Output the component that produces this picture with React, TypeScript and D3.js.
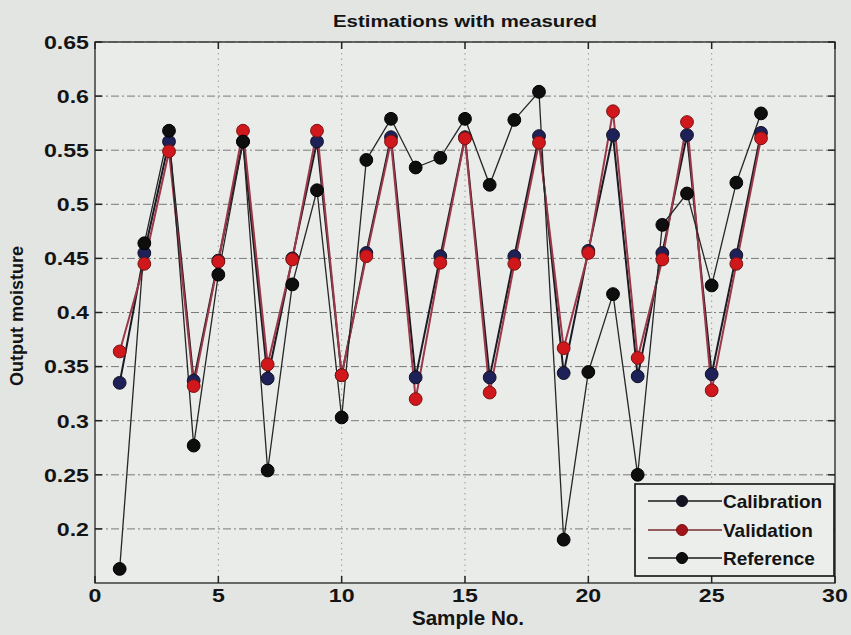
import React from "react";
import * as d3 from "d3";

const samples = d3.range(1, 28);
const reference = [0.163,0.464,0.568,0.277,0.435,0.558,0.254,0.426,0.513,0.303,0.541,0.579,0.534,0.543,0.579,0.518,0.578,0.604,0.190,0.345,0.417,0.250,0.481,0.510,0.425,0.520,0.584];
const calibration = [0.335,0.455,0.558,0.337,0.448,0.558,0.339,0.450,0.558,0.342,0.455,0.562,0.340,0.452,0.562,0.340,0.452,0.563,0.344,0.457,0.564,0.341,0.455,0.564,0.343,0.453,0.566];
const validation = [0.364,0.445,0.549,0.332,0.447,0.568,0.352,0.449,0.568,0.342,0.452,0.558,0.320,0.446,0.561,0.326,0.445,0.557,0.367,0.455,0.586,0.358,0.449,0.576,0.328,0.445,0.561];
const xTicks = [0, 5, 10, 15, 20, 25, 30];
const yTicks = [0.2, 0.25, 0.3, 0.35, 0.4, 0.45, 0.5, 0.55, 0.6, 0.65];
const legendLabels = ["Calibration", "Validation", "Reference"];

const W = 851, H = 635;
const L = 95, R = 835, T = 42, B = 583;
const FONT = "'Liberation Sans', Arial, sans-serif";

function SText(props: { x: number; y: number; sx?: number; size: number; anchor?: string; children: React.ReactNode; dy?: string }) {
  const { x, y, sx = 1, size, anchor = "start", children, dy } = props;
  return (
    <text
      transform={`translate(${x},${y}) scale(${sx},1)`}
      textAnchor={anchor as any}
      fontSize={size}
      fontWeight="bold"
      fill="#141414"
      dy={dy}
    >
      {children}
    </text>
  );
}

export default function App() {
  const x = d3.scaleLinear().domain([0, 30]).range([L, R]);
  const y = d3.scaleLinear().domain([0.15, 0.65]).range([B, T]);
  const line = d3.line<number>().x((_, i) => x(samples[i])).y((d) => y(d));

  const series = [
    { name: legendLabels[0], data: calibration, stroke: "#1b1b26", width: 2, fill: "#1e2158", edge: "#111122", lgFill: "#141420" },
    { name: legendLabels[1], data: validation, stroke: "#9c3848", width: 2, fill: "#d0181c", edge: "#7a1212", lgFill: "#a0141a" },
    { name: legendLabels[2], data: reference, stroke: "#262626", width: 1.3, fill: "#0e0e0e", edge: "#000", lgFill: "#0e0e0e" },
  ];

  const lg = { x: 635, y: 484, w: 199, h: 92 };
  const rows = [501, 530, 558];

  return (
    <svg width={W} height={H} style={{ position: "absolute", left: 0, top: 0, display: "block" }} fontFamily={FONT}>
      <rect x={0} y={0} width={W} height={H} fill="#e3e5e3" />
      <rect x={L} y={T} width={R - L} height={B - T} fill="#eaece9" />
      {/* grid */}
      {xTicks.slice(1, -1).map((t) => (
        <line key={"gx" + t} x1={x(t)} x2={x(t)} y1={T} y2={B} stroke="#9a9a9a" strokeWidth={1} strokeDasharray="1.5,4" />
      ))}
      {yTicks.slice(0, -1).map((t) => (
        <line key={"gy" + t} x1={L} x2={R} y1={y(t)} y2={y(t)} stroke="#7a7a7a" strokeWidth={1} strokeDasharray="8,3,2,3" />
      ))}
      {/* series lines */}
      {series.map((s) => (
        <path key={"l" + s.name} d={line(s.data) || ""} fill="none" stroke={s.stroke} strokeWidth={s.width} />
      ))}
      {/* markers */}
      {series.map((s) =>
        s.data.map((v, i) => (
          <circle key={s.name + i} cx={x(samples[i])} cy={y(v)} r={6.4} fill={s.fill} stroke={s.edge} strokeWidth={1} />
        ))
      )}
      {/* axes box */}
      <rect x={L} y={T} width={R - L} height={B - T} fill="none" stroke="#222" strokeWidth={1.3} />
      <line x1={L} x2={R} y1={T} y2={T} stroke="#555" strokeWidth={1.3} strokeDasharray="10,3" />
      {/* ticks */}
      {yTicks.map((t) => (
        <g key={"ty" + t}>
          <line x1={L} x2={L + 7} y1={y(t)} y2={y(t)} stroke="#222" strokeWidth={1.5} />
          <line x1={R} x2={R - 7} y1={y(t)} y2={y(t)} stroke="#222" strokeWidth={1.5} />
          <SText x={L - 6} y={y(t)} dy="0.36em" anchor="end" size={19} sx={1.22}>
            {t}
          </SText>
        </g>
      ))}
      {xTicks.map((t) => (
        <g key={"tx" + t}>
          <line x1={x(t)} x2={x(t)} y1={B} y2={B - 7} stroke="#222" strokeWidth={1.5} />
          <line x1={x(t)} x2={x(t)} y1={T} y2={T + 7} stroke="#222" strokeWidth={1.5} />
          <SText x={x(t)} y={B + 19} anchor="middle" size={19} sx={1.22}>
            {t}
          </SText>
        </g>
      ))}
      {/* labels */}
      <SText x={(L + R) / 2} y={27} anchor="middle" size={17} sx={1.2}>
        Estimations with measured
      </SText>
      <SText x={468} y={625} anchor="middle" size={20} sx={1.03}>
        Sample No.
      </SText>
      <text transform={`translate(23,316) rotate(-90)`} textAnchor="middle" fontSize={18} fontWeight="bold" fill="#141414">
        Output moisture
      </text>
      {/* legend */}
      <rect x={lg.x} y={lg.y} width={lg.w} height={lg.h} fill="#eceeeb" stroke="#111" strokeWidth={1.6} />
      {series.map((s, i) => (
        <g key={"lg" + s.name}>
          <line x1={648} x2={722} y1={rows[i]} y2={rows[i]} stroke={i === 1 ? "#7a2a30" : "#1a1a1a"} strokeWidth={1.6} />
          <circle cx={682} cy={rows[i]} r={5.5} fill={s.lgFill} stroke={s.edge} strokeWidth={1} />
          <SText x={723} y={rows[i]} dy="0.36em" size={19}>
            {s.name}
          </SText>
        </g>
      ))}
    </svg>
  );
}
